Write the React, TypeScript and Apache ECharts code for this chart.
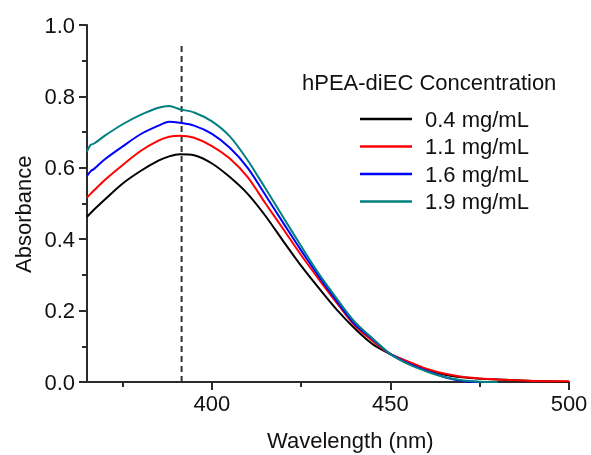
import React, { useEffect, useRef } from "react";
import * as echarts from "echarts";

const wavelengths = [365, 366, 367, 370, 375, 380, 385, 388, 391, 395, 400, 405, 410, 415, 420, 425, 430, 435, 440, 445, 450, 455, 460, 465, 470, 475, 480, 490, 500];
const conc04 = [0.463, 0.473, 0.483, 0.511, 0.556, 0.591, 0.620, 0.632, 0.638, 0.635, 0.612, 0.574, 0.527, 0.465, 0.394, 0.325, 0.262, 0.202, 0.150, 0.106, 0.078, 0.056, 0.036, 0.021, 0.013, 0.009, 0.007, 0.003, 0.001];
const conc11 = [0.517, 0.527, 0.537, 0.566, 0.608, 0.647, 0.676, 0.687, 0.690, 0.684, 0.661, 0.626, 0.574, 0.500, 0.428, 0.355, 0.287, 0.221, 0.158, 0.115, 0.078, 0.057, 0.037, 0.024, 0.015, 0.010, 0.007, 0.003, 0.002];
const conc16 = [0.577, 0.590, 0.597, 0.624, 0.660, 0.694, 0.718, 0.729, 0.726, 0.718, 0.695, 0.656, 0.600, 0.523, 0.445, 0.368, 0.295, 0.226, 0.162, 0.120, 0.078, 0.052, 0.032, 0.014, 0.003, 0.000, null, null, null];
const conc19 = [0.645, 0.664, 0.668, 0.690, 0.722, 0.748, 0.768, 0.773, 0.764, 0.755, 0.730, 0.688, 0.621, 0.542, 0.461, 0.380, 0.302, 0.233, 0.168, 0.122, 0.078, 0.050, 0.030, 0.014, 0.005, 0.001, 0.000, null, null];
const seriesNames = ["0.4 mg/mL", "1.1 mg/mL", "1.6 mg/mL", "1.9 mg/mL"];
const seriesColors = ["#000000", "#ff0000", "#0000ff", "#008080"];
const peakLine = [[391.5, 0], [391.5, 0.95]];
const xMajorTicks = [400, 450, 500];
const xMinorTicks = [375, 425, 475];
const legendTitle = "hPEA-diEC Concentration";
const xTitle = "Wavelength (nm)";
const yTitle = "Absorbance";

const FONT = "'Liberation Sans', Arial, sans-serif";
const AXIS = "#2b2b2b";

export default function App() {
  const ref = useRef<HTMLDivElement>(null);
  useEffect(() => {
    if (!ref.current) return;
    const chart = echarts.init(ref.current, undefined, { renderer: "svg" });
    const all = [conc04, conc11, conc16, conc19];
    const lineSeries = all.map((vals, i) => ({
      name: seriesNames[i],
      type: "line",
      xAxisIndex: 0,
      data: wavelengths.map((w, j) => [w, vals[j]]),
      symbol: "none",
      smooth: 0.3,
      connectNulls: false,
      lineStyle: { color: seriesColors[i], width: 2 },
      itemStyle: { color: seriesColors[i] },
      z: 3,
    }));
    chart.setOption({
      animation: false,
      textStyle: { fontFamily: FONT },
      grid: { left: 87, right: 22, top: 25, bottom: 73, containLabel: false },
      title: {
        text: legendTitle,
        left: 302,
        top: 71,
        textStyle: { fontFamily: FONT, fontSize: 22, fontWeight: "normal", color: "#111" },
        padding: 0,
      },
      legend: {
        data: seriesNames.map((n) => ({ name: n, icon: "rect" })),
        orient: "vertical",
        left: 360,
        top: 108,
        itemWidth: 52,
        itemHeight: 2.5,
        itemGap: 5.5,
        padding: 0,
        textStyle: { fontFamily: FONT, fontSize: 22, color: "#111", padding: [0, 0, 0, 8] },
        selectedMode: false,
      },
      xAxis: [
        {
          type: "value",
          min: 365,
          max: 500,
          position: "bottom",
          axisLine: { show: true, onZero: false, lineStyle: { color: AXIS, width: 2 } },
          axisTick: { show: true, customValues: xMajorTicks, length: 8, lineStyle: { color: AXIS, width: 2 } },
          axisLabel: { customValues: xMajorTicks, fontFamily: FONT, fontSize: 22, color: "#111", margin: 10 },
          splitLine: { show: false },
        },
        {
          type: "value",
          min: 365,
          max: 500,
          position: "bottom",
          axisLine: { show: false },
          axisTick: { show: true, customValues: xMinorTicks, length: 5, lineStyle: { color: AXIS, width: 2 } },
          axisLabel: { show: false },
          splitLine: { show: false },
        },
      ],
      yAxis: {
        type: "value",
        min: 0,
        max: 1,
        interval: 0.2,
        axisLine: { show: true, lineStyle: { color: AXIS, width: 2 } },
        axisTick: { show: true, length: 8, lineStyle: { color: AXIS, width: 2 } },
        minorTick: { show: true, splitNumber: 2, length: 5, lineStyle: { color: AXIS, width: 2 } },
        axisLabel: {
          fontFamily: FONT,
          fontSize: 22,
          color: "#111",
          margin: 12,
          formatter: (v: number) => v.toFixed(1),
        },
        splitLine: { show: false },
      },
      graphic: [
        {
          type: "text",
          left: 267,
          top: 429,
          style: { text: xTitle, font: `22px ${FONT}`, fill: "#111" },
        },
        {
          type: "text",
          x: 12,
          y: 273,
          rotation: Math.PI / 2,
          style: { text: yTitle, font: `22px ${FONT}`, fill: "#111", textVerticalAlign: "top" },
        },
      ],
      series: [
        ...lineSeries,
        {
          name: "peak",
          type: "line",
          xAxisIndex: 0,
          data: peakLine,
          symbol: "none",
          lineStyle: { color: "#333333", width: 2, type: [6, 4] },
          z: 2,
        },
      ],
    });
    return () => chart.dispose();
  }, []);
  return <div ref={ref} style={{ position: "fixed", left: 0, top: 0, width: 591, height: 455 }} />;
}
